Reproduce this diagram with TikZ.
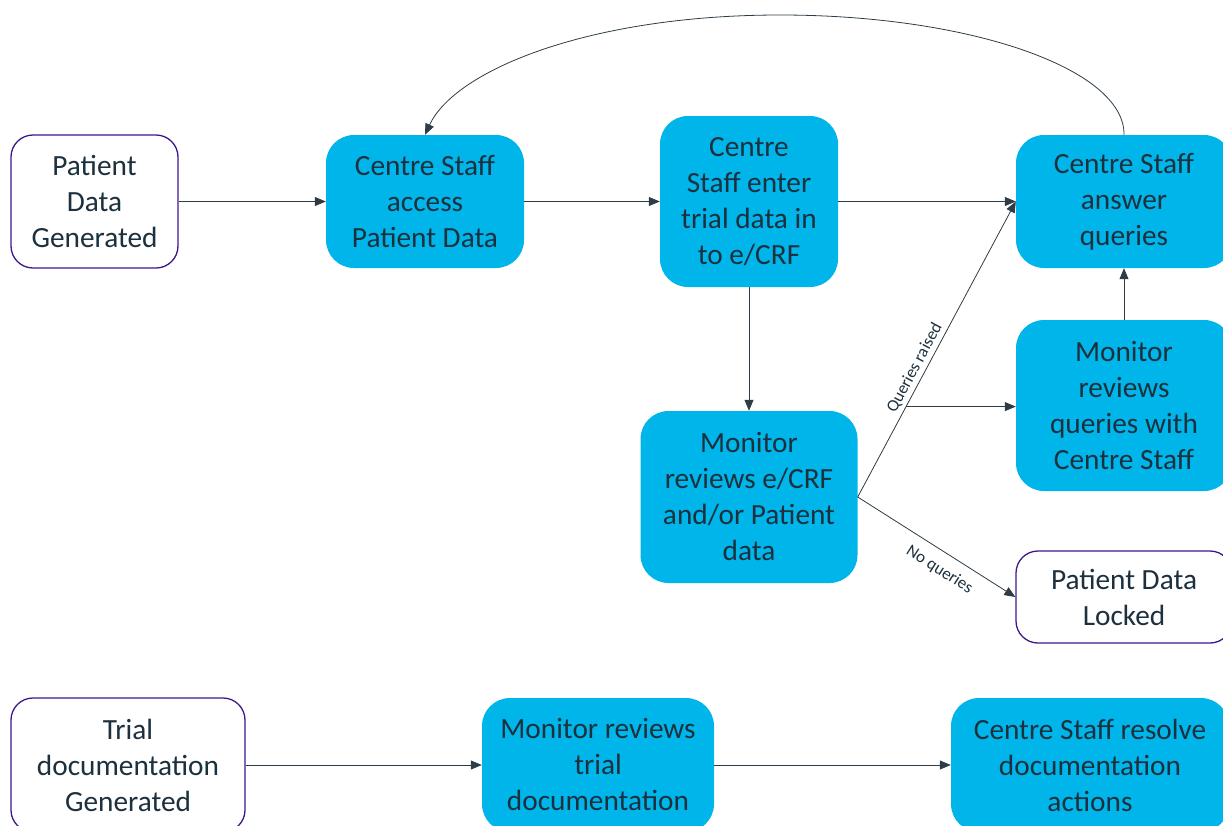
\documentclass[tikz,border=0pt]{standalone}
\usepackage{fontspec}
\setmainfont{Carlito}
\usetikzlibrary{arrows.meta,positioning,calc}
\definecolor{boxblue}{RGB}{0,181,234}
\definecolor{inkdark}{RGB}{28,48,62}
\definecolor{edgepurple}{RGB}{62,24,140}
\definecolor{linegrey}{RGB}{45,60,70}

\begin{document}
\begin{tikzpicture}[x=1pt,y=-1pt,>={Triangle[length=11pt,width=9pt]},node distance=300pt,on grid,
    task/.style={rectangle,rounded corners=28pt,fill=boxblue,text=inkdark,align=center,inner sep=0pt,font=\fontsize{29.3}{36}\selectfont},
    source/.style={task,fill=white,draw=edgepurple,line width=1.3pt,rounded corners=22pt},
    flow/.style={->,draw=linegrey,line width=0.8pt},
    tag/.style={font=\fontsize{17}{19}\selectfont,text=inkdark,sloped}]
  \useasboundingbox (0,0) rectangle (1223,825);

  % patient data stream
  \node[source,minimum width=167pt,minimum height=133pt] (PDG) at (94.5,201.5) {Patient\\Data\\Generated};
  \node[task,minimum width=198pt,minimum height=133pt] (CSA) [right=330.5pt of PDG] {Centre Staff\\access\\Patient Data};
  \node[task,minimum width=178pt,minimum height=171pt] (CSE) [right=324pt of CSA] {Centre\\Staff enter\\trial data in\\to e/CRF};
  \node[task,minimum width=216pt,minimum height=133pt] (CSQ) [right=375pt of CSE] {Centre Staff\\answer\\queries};
  \node[task,minimum width=216pt,minimum height=171pt] (MRQ) [below=204pt of CSQ] {Monitor\\reviews\\queries with\\Centre Staff};
  \node[task,minimum width=217pt,minimum height=172pt] (MRE) [below=295.5pt of CSE] {Monitor\\reviews e/CRF\\and/or Patient\\data};
  \node[source,minimum width=216pt,minimum height=92pt] (PDL) [below=191.5pt of MRQ] {Patient Data\\Locked};

  % documentation stream
  \node[source,minimum width=234pt,minimum height=134pt] (TDG) at (128,765) {Trial\\documentation\\Generated};
  \node[task,minimum width=232pt,minimum height=134pt] (MRT) [right=470pt of TDG] {Monitor reviews\\trial\\documentation};
  \node[task,minimum width=278pt,minimum height=134pt] (CSR) [right=492pt of MRT] {Centre Staff resolve\\documentation\\actions};

  \draw[flow] (PDG) -- (CSA);
  \draw[flow] (CSA) -- (CSE);
  \draw[flow] (CSE) -- (CSQ.west);
  \draw[flow] (CSE) -- (MRE);
  \draw[flow] (MRE.east) -- node[tag,above,pos=0.42] {Queries raised} (CSQ.west);
  \coordinate (branch) at ($(MRE.east)!0.306!(CSQ.west)$);
  \draw[flow] (branch) -- (branch -| MRQ.west);
  \draw[flow] (MRQ) -- (CSQ);
  \draw[flow] (MRE.east) -- node[tag,below=7pt,pos=0.58] {No queries} (PDL.west);
  \draw[flow] (CSQ.north) .. controls (1125,69) and (970,15) .. (780,15)
                          .. controls (590,15) and (455,70) .. (CSA.north);

  \draw[flow] (TDG) -- (MRT);
  \draw[flow] (MRT) -- (CSR);
\end{tikzpicture}
\end{document}
